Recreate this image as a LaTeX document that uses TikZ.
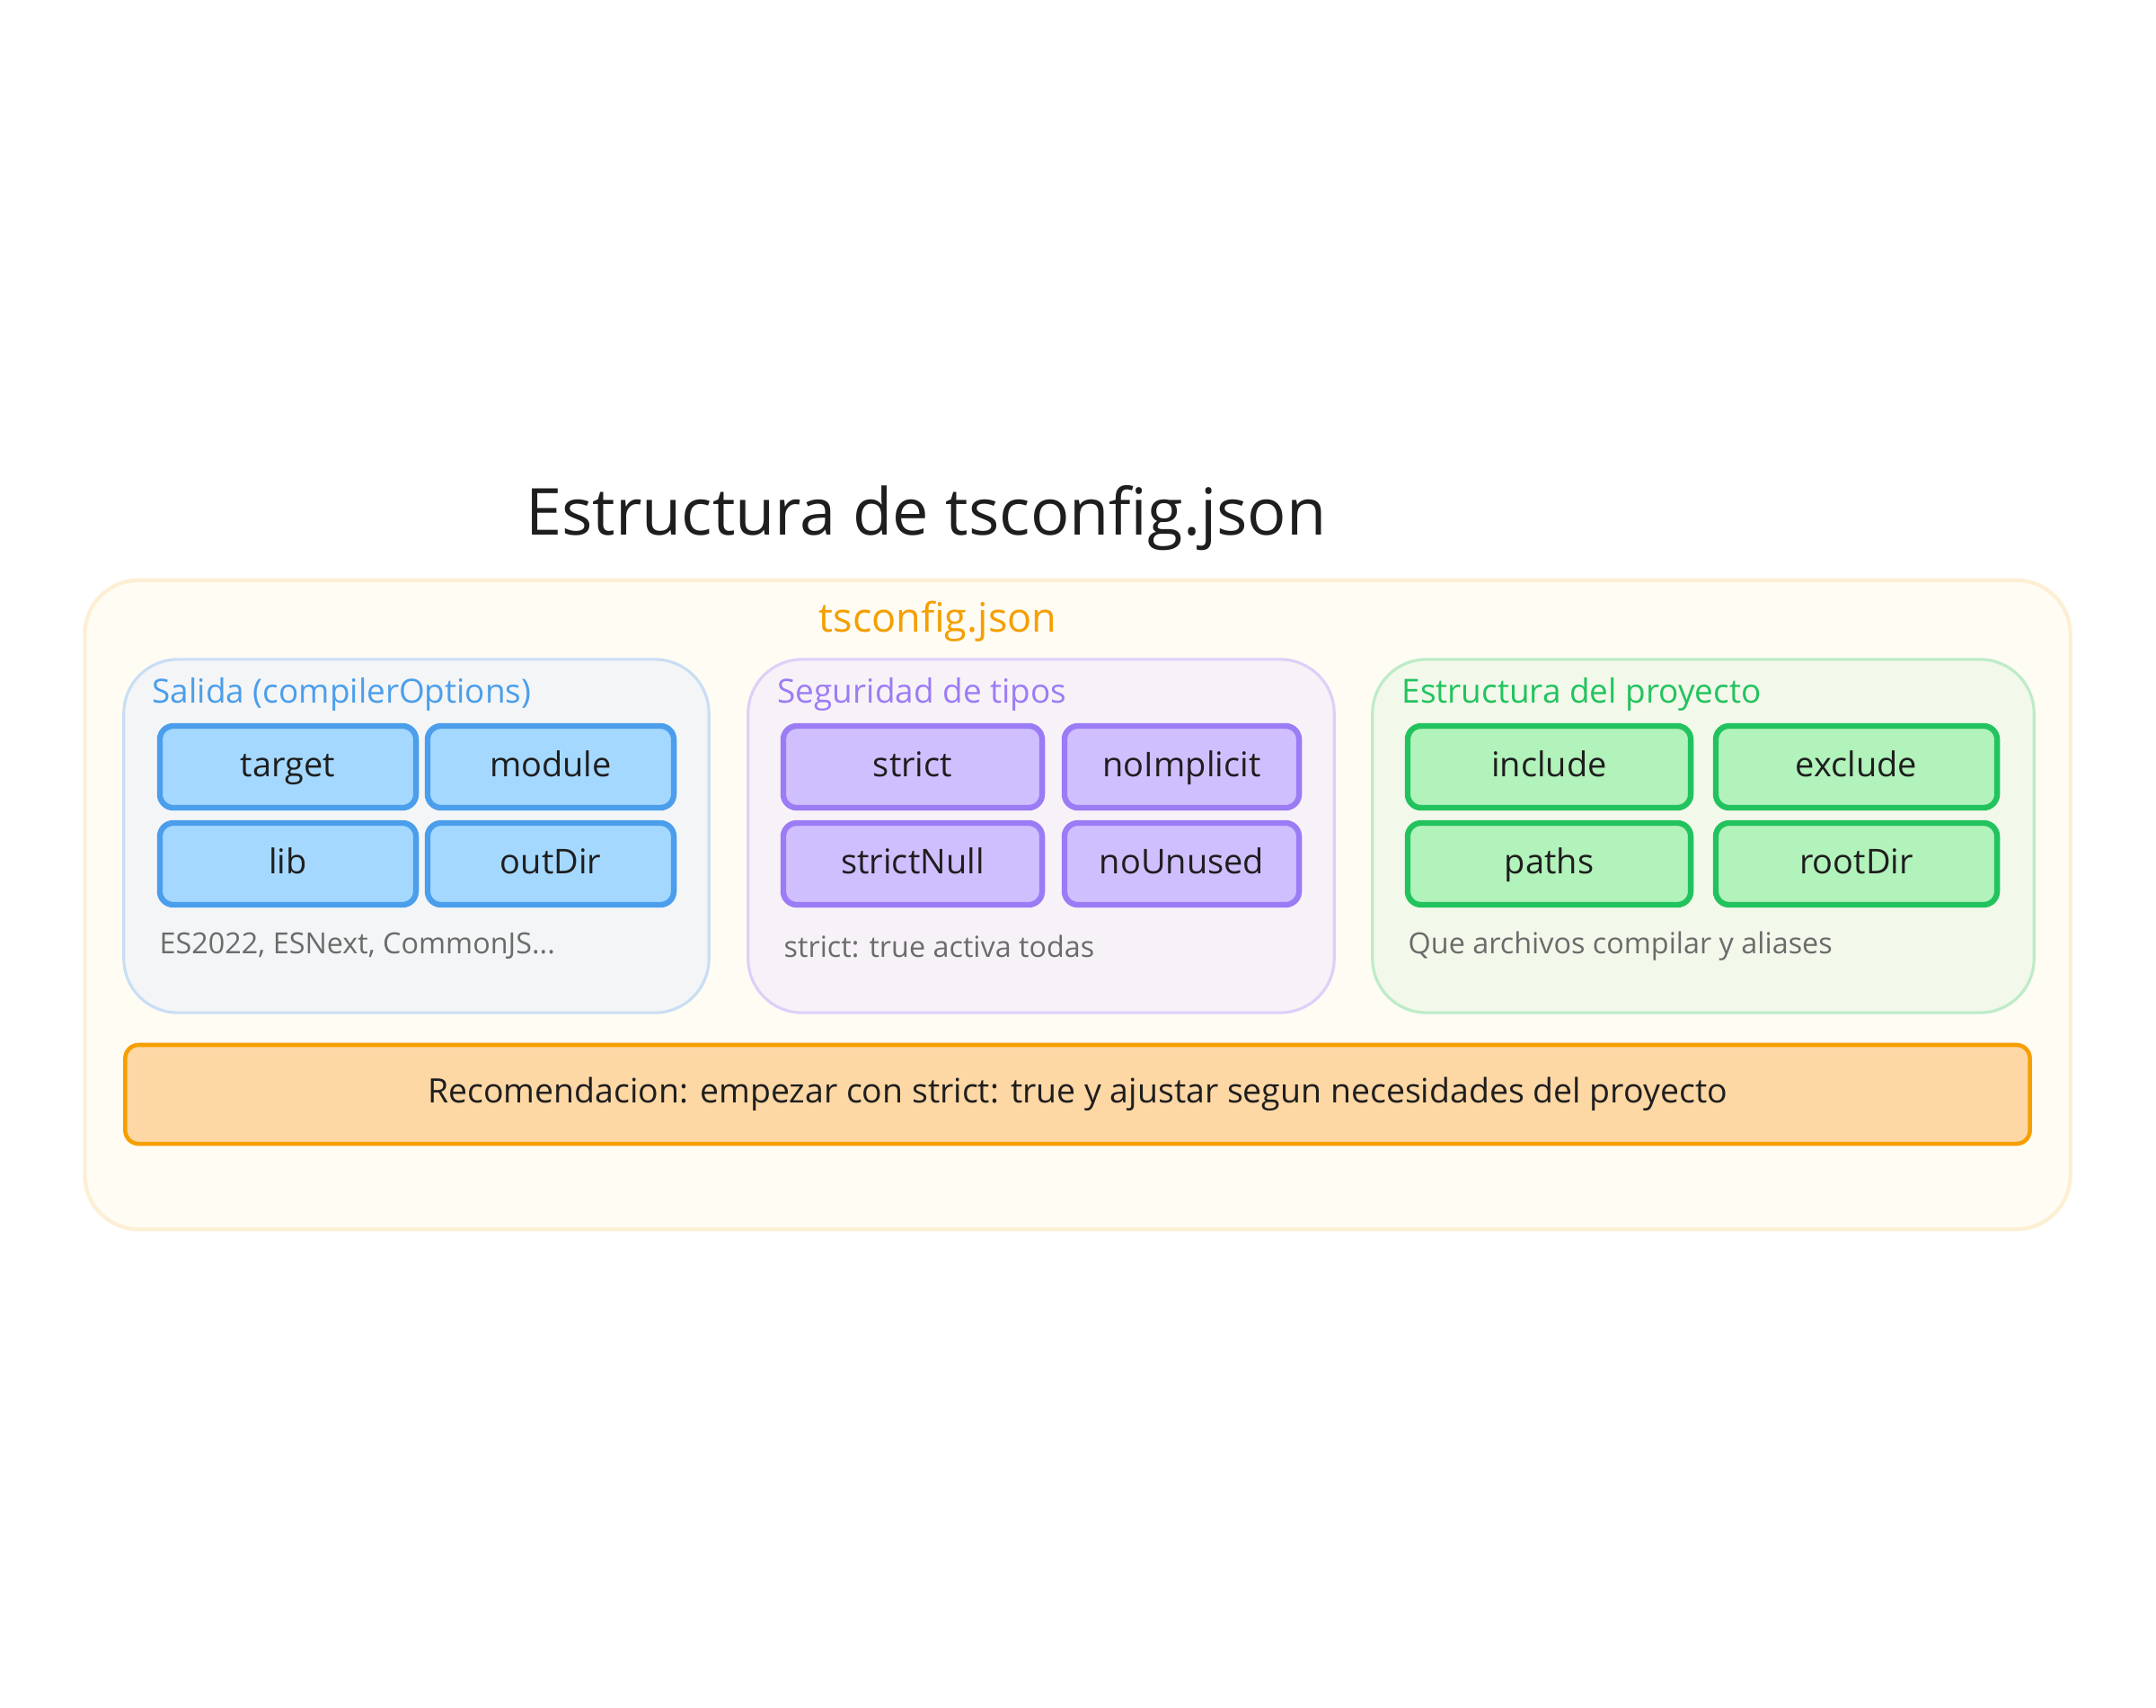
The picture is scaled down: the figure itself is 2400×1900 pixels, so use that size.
\documentclass[tikz,border=0pt]{standalone}
\usepackage{fontspec}
\setmainfont{Open Sans}
\definecolor{outerfill}{HTML}{FFFCF4}
\definecolor{outerline}{HTML}{FDEFD3}
\definecolor{bluepanel}{HTML}{F4F5F6}
\definecolor{bluepline}{HTML}{C9DEF4}
\definecolor{bluefill}{HTML}{A5D8FF}
\definecolor{blueline}{HTML}{4A9EEB}
\definecolor{purppanel}{HTML}{F7F2F8}
\definecolor{purppline}{HTML}{DDD0F8}
\definecolor{purpfill}{HTML}{D0BFFF}
\definecolor{purpline}{HTML}{9B7CF5}
\definecolor{greenpanel}{HTML}{F2F8EA}
\definecolor{greenpline}{HTML}{BDEBC8}
\definecolor{greenfill}{HTML}{B2F2BB}
\definecolor{greenline}{HTML}{22C35E}
\definecolor{bannerfill}{HTML}{FDD7A4}
\definecolor{bannerline}{HTML}{F59F00}
\definecolor{notegrey}{HTML}{6B6B6B}
\definecolor{inkdark}{HTML}{1E1E1E}
\tikzset{
  panelbox/.style={draw, line width=0.9pt, rounded corners=0.6cm, minimum width=#1, minimum height=3.93cm, inner sep=0pt},
  optbox/.style={draw, line width=1.8pt, rounded corners=0.15cm, minimum height=0.91cm, inner sep=0pt, text height=1.5ex, text depth=0.3ex, font=\fontsize{10.8}{12}\selectfont, text=inkdark},
  bluebox/.style={optbox, fill=bluefill, draw=blueline},
  purpbox/.style={optbox, fill=purpfill, draw=purpline},
  greenbox/.style={optbox, fill=greenfill, draw=greenline},
  paneltitle/.style={anchor=west, inner sep=0pt, font=\fontsize{10.5}{12}\selectfont},
  notetext/.style={anchor=west, inner sep=0pt, font=\fontsize{9.2}{11}\selectfont, text=notegrey},
}
\begin{document}
\begin{tikzpicture}[x=0.01cm,y=-0.01cm]
\useasboundingbox[fill=white] (0,0) rectangle (2400,1900);
% title
\node[inner sep=0pt, font=\fontsize{20.5}{24}\selectfont, text=inkdark] (title) at (1031,577) {Estructura de tsconfig.json};
% outer container
\node[draw=outerline, fill=outerfill, line width=1.2pt, rounded corners=0.6cm, minimum width=22.09cm, minimum height=7.22cm, inner sep=0pt] (outer) at (1199.5,1007) {};
\node[inner sep=0pt, font=\fontsize{12.8}{15}\selectfont, text=bannerline] (outerlbl) at (1044,692) {tsconfig.json};
% panels
\node[panelbox=6.51cm, draw=bluepline, fill=bluepanel] (pblue) at (463.5,930.5) {};
\node[panelbox=6.52cm, draw=purppline, fill=purppanel] (ppurp) at (1159,930.5) {};
\node[panelbox=7.36cm, draw=greenpline, fill=greenpanel] (pgreen) at (1896,930.5) {};
% panel titles
\node[paneltitle, text=blueline] (tblue) at (169,773) {Salida (compilerOptions)};
\node[paneltitle, text=purpline] (tpurp) at (865,773) {Seguridad de tipos};
\node[paneltitle, text=greenline] (tgreen) at (1560,773) {Estructura del proyecto};
% blue boxes
\node[bluebox, minimum width=2.85cm] (target) at (320.5,853.5) {target};
\node[bluebox, minimum width=2.74cm] (module) at (613,853.5) {module};
\node[bluebox, minimum width=2.85cm] (lib) at (320.5,961.5) {lib};
\node[bluebox, minimum width=2.74cm] (outdir) at (613,961.5) {outDir};
% purple boxes
\node[purpbox, minimum width=2.88cm] (strict) at (1016,853.5) {strict};
\node[purpbox, minimum width=2.61cm] (noimplicit) at (1315.5,853.5) {noImplicit};
\node[purpbox, minimum width=2.88cm] (strictnull) at (1016,961.5) {strictNull};
\node[purpbox, minimum width=2.61cm] (nounused) at (1315.5,961.5) {noUnused};
% green boxes
\node[greenbox, minimum width=3.15cm] (include) at (1724.5,853.5) {include};
\node[greenbox, minimum width=3.13cm] (exclude) at (2066.5,853.5) {exclude};
\node[greenbox, minimum width=3.15cm] (paths) at (1724.5,961.5) {paths};
\node[greenbox, minimum width=3.13cm] (rootdir) at (2066.5,961.5) {rootDir};
% notes
\node[notetext] (nblue) at (177,1053) {ES2022, ESNext, CommonJS...};
\node[notetext] (npurp) at (872,1053) {strict: true activa todas};
\node[notetext] (ngreen) at (1567,1053) {Que archivos compilar y aliases};
% banner
\node[draw=bannerline, fill=bannerfill, line width=1.3pt, rounded corners=0.15cm, minimum width=21.19cm, minimum height=1.1cm, inner sep=0pt, font=\fontsize{10.65}{13}\selectfont, text=inkdark] (banner) at (1199.5,1218) {Recomendacion: empezar con strict: true y ajustar segun necesidades del proyecto};
\end{tikzpicture}
\end{document}
